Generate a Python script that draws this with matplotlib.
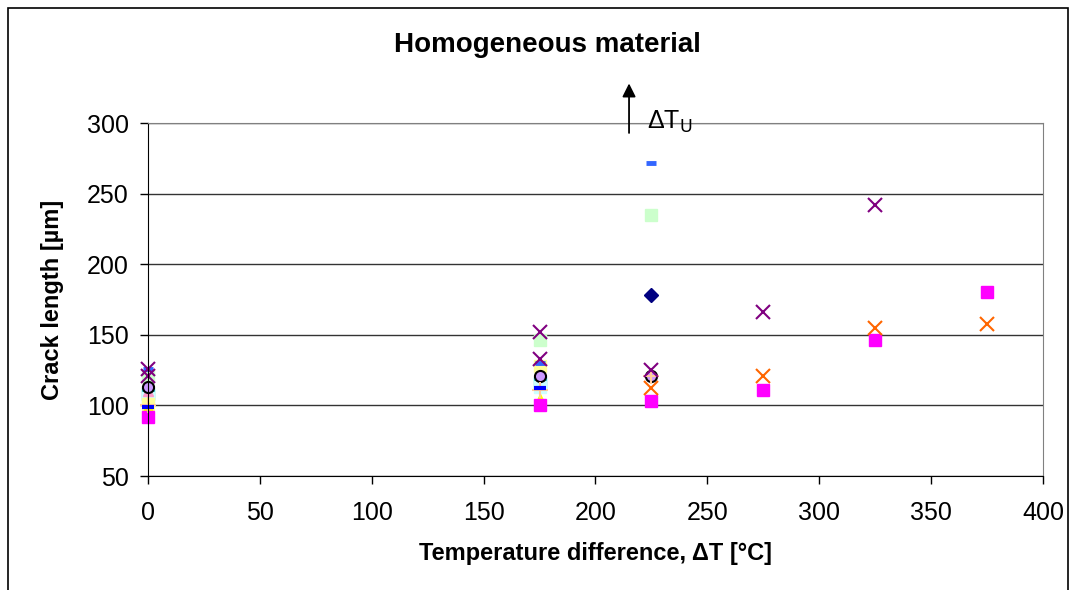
import matplotlib.pyplot as plt
from matplotlib.patches import Rectangle

plt.rcParams['font.family'] = ['Liberation Sans', 'DejaVu Sans']

# data (temperature difference [°C] vs crack length [µm])
navy_x = [225]
navy_y = [178]
magenta_x = [0, 175, 225, 275, 325, 375]
magenta_y = [92, 100, 103, 111, 146, 180]
orange_x = [225, 275, 325, 375]
orange_y = [112, 121, 155, 158]
purple_x = [0, 0, 175, 175, 225, 275, 325]
purple_y = [126, 121, 152, 133, 125, 166, 242]
green_x = [0, 175, 225]
green_y = [121, 146, 235]
blue_x = [0, 175, 225]
blue_y = [126, 130, 272]
lav_x = [0, 175, 225]
lav_y = [113, 121, 121]
cyan_x = [0, 175]
cyan_y = [108, 116]
lcyan_x = [0, 175]
lcyan_y = [105, 113]
pink_x = [0, 175]
pink_y = [110, 127]
pyellow_x = [0, 175]
pyellow_y = [101, 128]
peach_x = [0, 175, 225]
peach_y = [100, 111, 121]
dblue_x = [0, 175]
dblue_y = [99, 112]
yellow_x = [0, 175]
yellow_y = [98, 104]
arrow_x = 215

fig = plt.figure(figsize=(10.74, 5.9), dpi=100)
ax = fig.add_axes([0.1378, 0.1932, 0.8333, 0.5983])

# chart area border
fig.patches.append(Rectangle((8 / 1074, -0.05), 1060 / 1074, 1.05 - 8 / 590,
                             transform=fig.transFigure, fill=False,
                             edgecolor='black', linewidth=1.2))

kw = dict(clip_on=False, linestyle='none')
ax.plot(cyan_x, cyan_y, 's', color='#33CCCC', ms=8, **kw)
ax.plot(lcyan_x, lcyan_y, 's', color='#CCFFFF', ms=8, **kw)
ax.plot(pink_x, pink_y, '^', color='#FF99CC', ms=7, **kw)
ax.plot(pyellow_x, pyellow_y, 's', color='#FFFF99', ms=8, **kw)
ax.plot(green_x, green_y, 's', color='#CCFFCC', ms=8.5, **kw)
ax.plot(yellow_x, yellow_y, '^', color='#FFFF00', ms=9, **kw)
ax.plot(magenta_x, magenta_y, 's', color='#FF00FF', ms=8.5, **kw)
ax.plot(lav_x, lav_y, 'o', color='#CC99FF', mec='black', mew=1.5, ms=8, **kw)
ax.plot(peach_x, peach_y, '+', color='#FFCC99', ms=11, mew=1.5, **kw)
ax.plot(dblue_x, dblue_y, '_', color='#0000FF', ms=8, mew=3, **kw)
ax.plot(blue_x, blue_y, '_', color='#3366FF', ms=7, mew=3.5, **kw)
ax.plot(orange_x, orange_y, 'x', color='#FF6600', ms=10, mew=1.5, **kw)
ax.plot(purple_x, purple_y, 'x', color='#800080', ms=10, mew=1.5, **kw)
ax.plot(navy_x, navy_y, 'D', color='#000080', ms=7, **kw)

ax.set_xlim(0, 400)
ax.set_ylim(50, 300)
ax.set_xticks(range(0, 401, 50))
ax.set_yticks(range(50, 301, 50))
ax.yaxis.grid(True, color='#333333', linewidth=1)
ax.set_axisbelow(True)
ax.tick_params(labelsize=18, direction='out', length=6, width=1, pad=8)
ax.tick_params(axis='x', pad=12)
for side in ['top', 'right']:
    ax.spines[side].set_color('#808080')

ax.set_xlabel('Temperature difference, ΔT [°C]', fontsize=17, fontweight='bold', labelpad=12)
ax.set_ylabel('Crack length [µm]', fontsize=17, fontweight='bold', labelpad=16)
fig.text(0.51, 0.923, 'Homogeneous material', ha='center', va='center',
         fontsize=20, fontweight='bold')

# arrow marking the upper temperature difference
ax.annotate('', xy=(arrow_x, 330), xytext=(arrow_x, 291), annotation_clip=False,
            arrowprops=dict(arrowstyle='-|>', color='black', lw=1.3, mutation_scale=20))
ax.text(arrow_x + 8, 301, 'ΔT$_{\\mathrm{U}}$', fontsize=18, va='center', clip_on=False)

fig.savefig('out.png', dpi=100)
